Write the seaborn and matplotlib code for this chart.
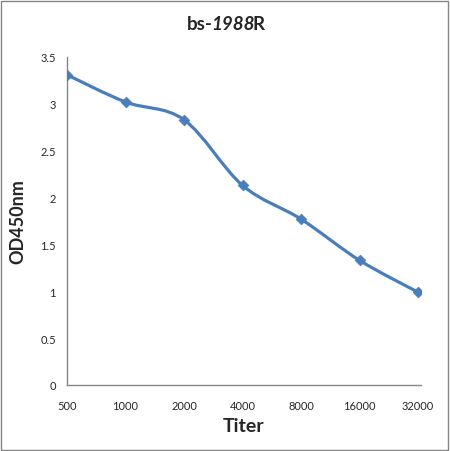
import numpy as np
import pandas as pd
import matplotlib
matplotlib.use('Agg')
import matplotlib.pyplot as plt
import seaborn as sns
from matplotlib.path import Path
from matplotlib.patches import PathPatch, Rectangle

# Data
titers = ['500', '1000', '2000', '4000', '8000', '16000', '32000']
od450 = [3.31, 3.02, 2.83, 2.13, 1.77, 1.33, 0.99]
y_ticks = [0, 0.5, 1, 1.5, 2, 2.5, 3, 3.5]
y_tick_labels = ['0', '0.5', '1', '1.5', '2', '2.5', '3', '3.5']

LINE_COLOR = '#4A7EBB'
AXIS_COLOR = '#868686'

sns.set_style('white')
plt.rcParams['font.family'] = ['Lato', 'DejaVu Sans']

df = pd.DataFrame({'pos': np.arange(len(titers)), 'od': od450})

fig = plt.figure(figsize=(4.5, 4.52), dpi=100)
ax = fig.add_axes([67 / 450, 66 / 452, 354 / 450, 328 / 452])


def smooth_path(xs, ys, tension=1 / 6):
    # Catmull-Rom style cubic Bezier through the data points (like Excel smoothing)
    verts = [(xs[0], ys[0])]
    codes = [Path.MOVETO]
    n = len(xs)
    for i in range(n - 1):
        p0 = (xs[max(i - 1, 0)], ys[max(i - 1, 0)])
        p1 = (xs[i], ys[i])
        p2 = (xs[i + 1], ys[i + 1])
        p3 = (xs[min(i + 2, n - 1)], ys[min(i + 2, n - 1)])
        c1 = (p1[0] + (p2[0] - p0[0]) * tension, p1[1] + (p2[1] - p0[1]) * tension)
        c2 = (p2[0] - (p3[0] - p1[0]) * tension, p2[1] - (p3[1] - p1[1]) * tension)
        verts += [c1, c2, p2]
        codes += [Path.CURVE4] * 3
    return Path(verts, codes)


ax.add_patch(PathPatch(smooth_path(df['pos'].tolist(), df['od'].tolist()),
                       facecolor='none', edgecolor=LINE_COLOR, lw=2.3,
                       capstyle='round', joinstyle='round', zorder=3))
sns.scatterplot(data=df, x='pos', y='od', marker='D', s=30, color=LINE_COLOR,
                edgecolor=LINE_COLOR, linewidth=0.5, ax=ax, zorder=4)

ax.set_xlim(0, 6.05)
ax.set_ylim(0, 3.5)
ax.set_xticks(df['pos'])
ax.set_xticklabels(titers, fontsize=8)
ax.set_yticks(y_ticks)
ax.set_yticklabels(y_tick_labels, fontsize=8)
ax.tick_params(axis='both', length=0)
ax.tick_params(axis='x', pad=11)
ax.tick_params(axis='y', pad=8)
ax.set_xlabel('Titer', fontsize=14, fontweight='bold', labelpad=4)
ax.set_ylabel('OD450nm', fontsize=13, fontweight='bold', labelpad=10)

for side in ['top', 'right']:
    ax.spines[side].set_visible(False)
for side in ['left', 'bottom']:
    ax.spines[side].set_color(AXIS_COLOR)
    ax.spines[side].set_linewidth(1)

# Title with italic number part
fig.canvas.draw()
renderer = fig.canvas.get_renderer()
parts = [('bs-', 'normal'), ('1988', 'italic'), ('R', 'normal')]
texts = []
widths = []
for s, style in parts:
    t = fig.text(0, 1 - 25 / 452, s, fontsize=13.5, fontweight='bold', fontstyle=style,
                 va='center', ha='left')
    texts.append(t)
    widths.append(t.get_window_extent(renderer).width - 1.5)
x0 = (450 - sum(widths)) / 2
for t, w in zip(texts, widths):
    t.set_x(x0 / 450)
    x0 += w

# Outer border of the chart area
fig.patches.append(Rectangle((1 / 450, 1 / 452), 447 / 450, 449 / 452,
                             transform=fig.transFigure, fill=False,
                             edgecolor=AXIS_COLOR, lw=1))

fig.savefig('out.png', dpi=100)
